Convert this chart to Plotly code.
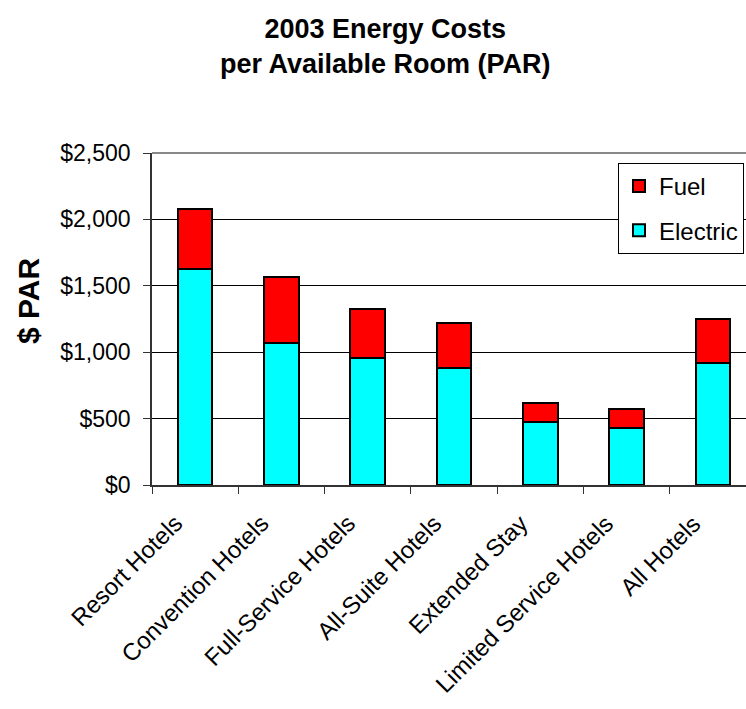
import plotly.graph_objects as go

# 2003 energy costs per available room, split into electric and fuel
categories = [
    "Resort Hotels",
    "Convention Hotels",
    "Full-Service Hotels",
    "All-Suite Hotels",
    "Extended Stay",
    "Limited Service Hotels",
    "All Hotels",
]
electric = [1624, 1067, 959, 884, 477, 432, 916]
fuel = [454, 499, 364, 336, 138, 140, 334]

y_ticks = [0, 500, 1000, 1500, 2000, 2500]
y_labels = ["$" + f"{v:,}" for v in y_ticks]

FONT = "Arial, 'Liberation Sans', sans-serif"

fig = go.Figure()
fig.add_trace(go.Bar(
    x=categories, y=electric, name="Electric", legendgroup="e", legendrank=2,
    marker=dict(color="#00FFFF", line=dict(color="#000000", width=2)),
))
fig.add_trace(go.Bar(
    x=categories, y=fuel, name="Fuel", legendgroup="f", legendrank=1,
    marker=dict(color="#FF0000", line=dict(color="#000000", width=2)),
))

# slanted category labels, right end tucked just left of each category centre
category_labels = [
    dict(text=c, x=c, xref="x", y=0, yref="paper",
         xanchor="right", yanchor="top", textangle=-45,
         xshift=-5, yshift=-22, showarrow=False,
         font=dict(family=FONT, size=24, color="black"))
    for c in categories
]

fig.update_layout(
    width=746, height=709,
    margin=dict(l=152, r=0, t=153, b=224),
    paper_bgcolor="white", plot_bgcolor="white",
    barmode="stack", bargap=0.6,
    font=dict(family=FONT, color="black", size=22),
    showlegend=True,
    legend=dict(
        x=0.7845, y=0.97, xanchor="left", yanchor="top",
        traceorder="grouped", tracegroupgap=10,
        bordercolor="black", borderwidth=1, bgcolor="white",
        font=dict(family=FONT, size=24, color="black"),
    ),
    xaxis=dict(
        type="category", range=[-0.5, -0.5 + 594 / 86.3],
        tickson="boundaries", ticks="outside", ticklen=7, tickcolor="#333333",
        showline=True, linecolor="#333333", linewidth=1.5,
        showgrid=False, showticklabels=False,
    ),
    yaxis=dict(
        range=[0, 2500], tickvals=y_ticks, ticktext=y_labels,
        ticks="outside", ticklen=7, tickcolor="#333333",
        showline=True, linecolor="#333333", linewidth=1.5,
        showgrid=True, gridcolor="black", gridwidth=1,
        zeroline=False, ticklabelstandoff=8,
        tickfont=dict(family=FONT, size=23, color="black"),
    ),
    shapes=[dict(type="line", xref="paper", yref="paper", x0=0, x1=1, y0=1, y1=1,
                 line=dict(color="#888888", width=2))],
    annotations=category_labels + [
        dict(text="<b>2003 Energy Costs<br>per Available Room (PAR)</b>",
             xref="paper", yref="paper", x=(385 - 152) / 594, y=(485 - 12) / 332,
             xanchor="center", yanchor="top", showarrow=False,
             font=dict(family=FONT, size=27, color="black")),
        dict(text="<b>$ PAR</b>", textangle=-90,
             xref="paper", yref="paper", x=(28 - 152) / 594, y=(485 - 301) / 332,
             xanchor="center", yanchor="middle", showarrow=False,
             font=dict(family=FONT, size=30, color="black")),
    ],
)

fig.write_html("out.html")
